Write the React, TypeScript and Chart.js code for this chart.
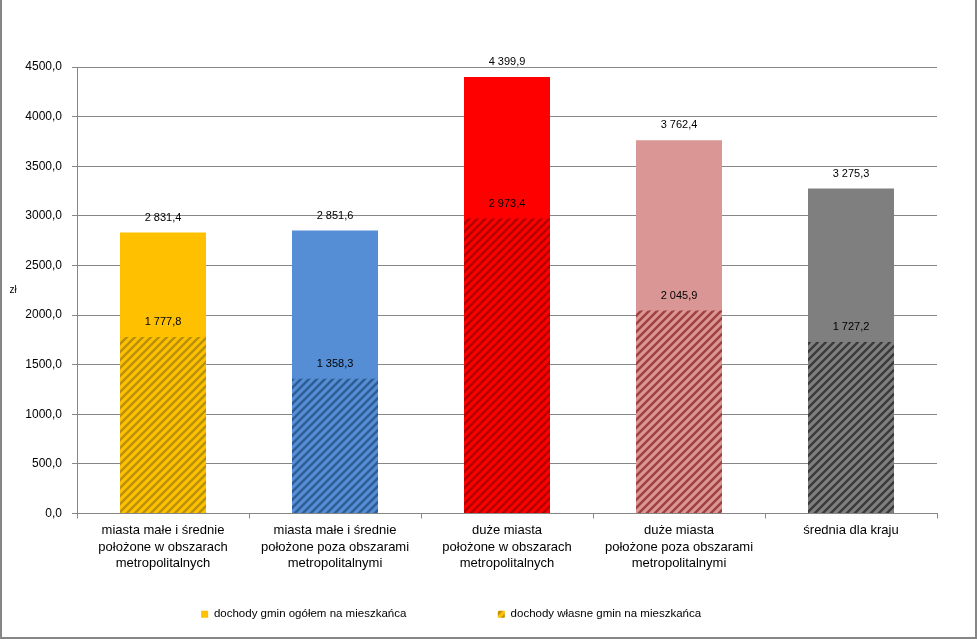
import React, { useEffect, useRef } from "react";
import { Chart, registerables } from "chart.js";

Chart.register(...registerables);

const CATEGORIES: string[][] = [
  ["miasta małe i średnie", "położone w obszarach", "metropolitalnych"],
  ["miasta małe i średnie", "położone poza obszarami", "metropolitalnymi"],
  ["duże miasta", "położone w obszarach", "metropolitalnych"],
  ["duże miasta", "położone poza obszarami", "metropolitalnymi"],
  ["średnia dla kraju"],
];
const TOTAL_INCOME = [2831.4, 2851.6, 4399.9, 3762.4, 3275.3];
const OWN_INCOME = [1777.8, 1358.3, 2973.4, 2045.9, 1727.2];
const SERIES_NAMES = ["dochody gmin ogółem na mieszkańca", "dochody własne gmin na mieszkańca"];
const BAR_COLORS = ["#FFC000", "#558ED5", "#FF0000", "#D99694", "#7F7F7F"];
const HATCH_COLORS = ["#B8900A", "#2F5D93", "#B00000", "#A0403F", "#3A3A3A"];
const Y_MIN = 0;
const Y_MAX = 4500;
const Y_STEP = 500;
const Y_UNIT = "zł";

const FONT = 'Arial, "Liberation Sans", sans-serif';

function fmtTick(v: number): string {
  return v.toFixed(1).replace(".", ",");
}
function fmtValue(v: number): string {
  const [i, d] = v.toFixed(1).split(".");
  return i.replace(/\B(?=(\d{3})+(?!\d))/g, " ") + "," + d;
}

function makePattern(bg: string, fg: string): CanvasPattern | string {
  const c = document.createElement("canvas");
  c.width = 8;
  c.height = 8;
  const x = c.getContext("2d");
  if (!x) return bg;
  x.fillStyle = bg;
  x.fillRect(0, 0, 8, 8);
  x.strokeStyle = fg;
  x.lineWidth = 2.4;
  x.beginPath();
  x.moveTo(-1, 9);
  x.lineTo(9, -1);
  x.moveTo(-5, 5);
  x.lineTo(5, -5);
  x.moveTo(3, 13);
  x.lineTo(13, 3);
  x.stroke();
  const p = x.createPattern(c, "repeat");
  return p || bg;
}

const valueLabels = {
  id: "valueLabels",
  afterDatasetsDraw(chart: any) {
    const ctx = chart.ctx;
    ctx.save();
    ctx.font = `11px ${FONT}`;
    ctx.fillStyle = "#000";
    ctx.textAlign = "center";
    ctx.textBaseline = "middle";
    chart.data.datasets.forEach((ds: any, di: number) => {
      const meta = chart.getDatasetMeta(di);
      meta.data.forEach((el: any, i: number) => {
        ctx.fillText(fmtValue(ds.data[i]), el.x, el.y - 15);
      });
    });
    ctx.restore();
  },
};

const decorations = {
  id: "decorations",
  afterDraw(chart: any) {
    const ctx = chart.ctx;
    const W = chart.width;
    const H = chart.height;
    const area = chart.chartArea;
    ctx.save();
    ctx.font = `10px ${FONT}`;
    ctx.fillStyle = "#000";
    ctx.textAlign = "center";
    ctx.textBaseline = "middle";
    ctx.fillText(Y_UNIT, 13, (area.top + area.bottom) / 2);
    ctx.strokeStyle = "#868686";
    ctx.lineWidth = 2;
    ctx.beginPath();
    ctx.moveTo(1, 0);
    ctx.lineTo(1, H - 1);
    ctx.lineTo(W - 1, H - 1);
    ctx.lineTo(W - 1, 0);
    ctx.stroke();
    ctx.restore();
  },
};

export default function App() {
  const ref = useRef<HTMLCanvasElement | null>(null);

  useEffect(() => {
    document.body.style.margin = "0";
    const canvas = ref.current;
    if (!canvas) return;
    const hatches = BAR_COLORS.map((c, i) => makePattern(c, HATCH_COLORS[i]));

    const chart = new Chart(canvas, {
      type: "bar",
      data: {
        labels: CATEGORIES,
        datasets: [
          {
            label: SERIES_NAMES[0],
            data: TOTAL_INCOME,
            backgroundColor: BAR_COLORS,
            borderWidth: 0,
            grouped: false,
            order: 2,
            barPercentage: 0.5,
            categoryPercentage: 1,
          } as any,
          {
            label: SERIES_NAMES[1],
            data: OWN_INCOME,
            backgroundColor: hatches,
            borderWidth: 0,
            grouped: false,
            order: 1,
            barPercentage: 0.5,
            categoryPercentage: 1,
          } as any,
        ],
      },
      options: {
        responsive: false,
        animation: false,
        devicePixelRatio: 1,
        layout: { padding: { left: 0, right: 40, top: 67, bottom: 9 } },
        scales: {
          x: {
            grid: {
              display: true,
              drawOnChartArea: false,
              drawTicks: true,
              tickLength: 5,
              offset: true,
              color: "#868686",
            },
            border: { display: true, color: "#868686" },
            ticks: {
              color: "#000",
              font: { family: FONT, size: 13, lineHeight: 1.27 },
              padding: 4,
              maxRotation: 0,
              autoSkip: false,
            },
            afterFit(scale: any) {
              scale.height = 73;
            },
          },
          y: {
            min: Y_MIN,
            max: Y_MAX,
            ticks: {
              stepSize: Y_STEP,
              color: "#000",
              font: { family: FONT, size: 12 },
              padding: 10,
              callback: (v: any) => fmtTick(Number(v)),
            },
            grid: { color: "#868686", tickLength: 5, lineWidth: 1 },
            border: { display: true, color: "#868686" },
            afterFit(scale: any) {
              scale.width = 77;
            },
          },
        },
        plugins: {
          tooltip: { enabled: false },
          legend: {
            position: "bottom",
            labels: {
              boxWidth: 7,
              boxHeight: 7,
              padding: 22,
              color: "#000",
              font: { family: FONT, size: 11.5 },
              generateLabels: () => {
                const spacer = () => ({
                  text: "",
                  fillStyle: "rgba(0,0,0,0)",
                  strokeStyle: "rgba(0,0,0,0)",
                  lineWidth: 0,
                  hidden: false,
                });
                return [
                  {
                    text: SERIES_NAMES[0],
                    fillStyle: BAR_COLORS[0],
                    strokeStyle: "rgba(0,0,0,0)",
                    lineWidth: 0,
                    hidden: false,
                    datasetIndex: 0,
                  },
                  spacer(),
                  spacer(),
                  {
                    text: SERIES_NAMES[1],
                    fillStyle: hatches[0],
                    strokeStyle: "rgba(0,0,0,0)",
                    lineWidth: 0,
                    hidden: false,
                    datasetIndex: 1,
                  },
                  spacer(),
                ] as any;
              },
            },
          },
        },
      },
      plugins: [valueLabels, decorations],
    });
    return () => chart.destroy();
  }, []);

  return (
    <div style={{ width: 977, height: 639, background: "#fff" }}>
      <canvas ref={ref} width={977} height={639} style={{ display: "block" }} />
    </div>
  );
}
